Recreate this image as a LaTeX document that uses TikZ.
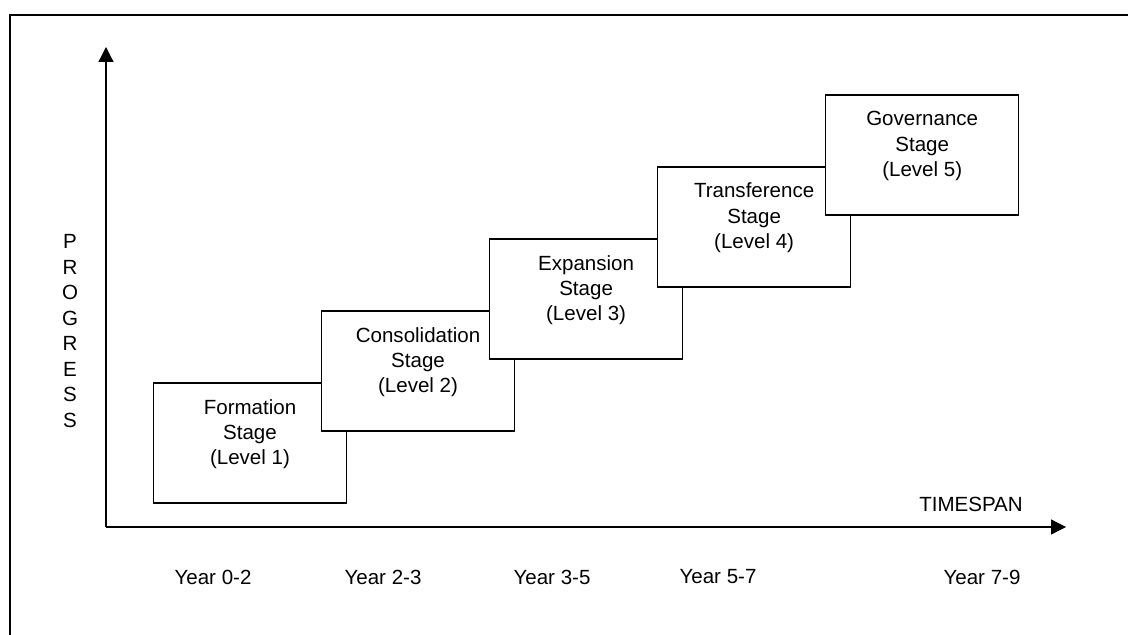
\documentclass[tikz,border=0pt]{standalone}
\usepackage{fontspec}
\setmainfont{Liberation Sans}
\usepackage{tikz}
\usetikzlibrary{arrows.meta, positioning}

\begin{document}
\begin{tikzpicture}[x=0.025cm, y=-0.025cm,
    every node/.style={font=\fontsize{14.6}{18.1}\selectfont},
    stage/.style={draw, fill=white, line width=1pt, minimum width=4.825cm, minimum height=3cm, outer sep=0pt},
    stagetext/.style={align=center, yshift=0.22cm},
    axis/.style={line width=0.9pt, -{Triangle[length=0.375cm, width=0.375cm]}}]
  \useasboundingbox (0,0) rectangle (1128,635);
  \draw[line width=1pt] (1128,15) -- (10,15) -- (10,635);

  % axes
  \coordinate (orig) at (106,527);
  \coordinate (ytip) at (106,47);
  \coordinate (xtip) at (1066,527);
  \draw[axis] (orig) -- (ytip);
  \draw[axis] (orig) -- (xtip);

  \node[align=center] (progress) at (70,331) {P\\R\\O\\G\\R\\E\\S\\S};
  \node (timespan) at (971,504) {TIMESPAN};

  % stages
  \node[stage, label={[stagetext]center:Formation\\Stage\\(Level 1)}] (form) at (250,443) {};
  \node[stage, above right=-1.2cm and -0.625cm of form, label={[stagetext]center:Consolidation\\Stage\\(Level 2)}] (cons) {};
  \node[stage, above right=-1.2cm and -0.625cm of cons, label={[stagetext]center:Expansion\\Stage\\(Level 3)}] (expa) {};
  \node[stage, above right=-1.2cm and -0.625cm of expa, label={[stagetext]center:Transference\\Stage\\(Level 4)}] (tran) {};
  \node[stage, above right=-1.2cm and -0.625cm of tran, label={[stagetext]center:Governance\\Stage\\(Level 5)}] (gove) {};

  % years
  \node (yr1) at (213,577) {Year 0-2};
  \node (yr2) at (383,577) {Year 2-3};
  \node (yr3) at (552,577) {Year 3-5};
  \node (yr4) at (718,577) {Year 5-7};
  \node (yr5) at (982,577) {Year 7-9};
\end{tikzpicture}
\end{document}
